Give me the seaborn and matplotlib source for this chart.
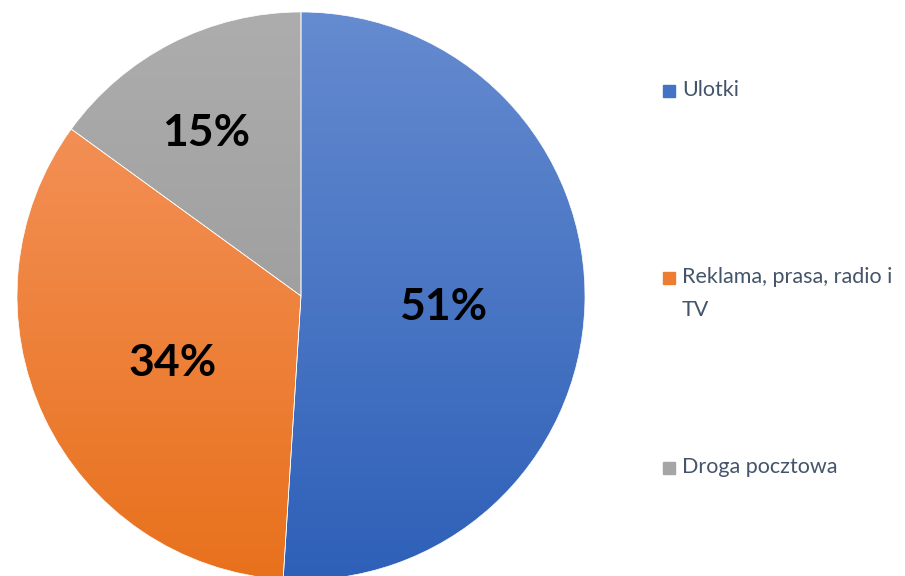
import numpy as np
import matplotlib
matplotlib.use("Agg")
import matplotlib.pyplot as plt
import seaborn as sns

# Data
labels = ["Ulotki", "Reklama, prasa, radio i\nTV", "Droga pocztowa"]
values = [51, 34, 15]
top_colors = ["#658bd0", "#f38f55", "#adadad"]
bottom_colors = ["#2e60b8", "#e8711c", "#a0a0a0"]
base_colors = ["#4472c4", "#ed7d31", "#a5a5a5"]

sns.set_theme(style="white")
plt.rcParams["font.family"] = ["Lato", "DejaVu Sans"]

fig = plt.figure(figsize=(9.05, 5.76), dpi=100)
ax = fig.add_axes([0, 0, 1, 1])

cx, cy, r = 301, 576 - 296, 284
wedges, texts, autotexts = ax.pie(
    values, colors=sns.color_palette(base_colors), startangle=90, counterclock=False,
    center=(cx, cy), radius=r, autopct="%d%%", pctdistance=0.5, frame=True,
    wedgeprops=dict(linewidth=0.5, edgecolor="white"),
    textprops=dict(fontsize=32, fontweight="bold", color="black"))
ax.set_xlim(0, 905)
ax.set_ylim(0, 576)
ax.set_aspect("auto")
ax.axis("off")

# gradient fill per wedge
for w, c1, c2 in zip(wedges, top_colors, bottom_colors):
    w.set_facecolor("none")
    ext = w.get_path().get_extents()
    a = np.array(matplotlib.colors.to_rgb(c1))
    b = np.array(matplotlib.colors.to_rgb(c2))
    t = np.linspace(0, 1, 256)[:, None]
    grad = (a * (1 - t) + b * t)[:, None, :]
    im = ax.imshow(grad, extent=[ext.x0, ext.x1, ext.y0, ext.y1], origin="upper",
                   aspect="auto", zorder=0.5)
    im.set_clip_path(w)

# label placement (small slice a bit further out), nudged like the original
dists = [0.5, 0.5, 0.67]
dx = [0, 0, -8]
cum = np.cumsum([0] + values[:-1])
for t, v, c0, d, ox in zip(autotexts, values, cum, dists, dx):
    ang = np.deg2rad(90 - 360 * (c0 + v / 2) / 100)
    t.set_position((cx + d * r * np.cos(ang) + ox, cy + d * r * np.sin(ang) - 7))
    t.set_zorder(5)

# legend
ys = [576 - 91, 576 - 278, 576 - 468]
for lab, col, y in zip(labels, base_colors, ys):
    ax.add_patch(plt.Rectangle((663, y - 6), 12, 12, color=col, zorder=3))
    ax.text(682, y + 11, lab, fontsize=15.5, color="#44546a", va="top", ha="left",
            linespacing=1.8)

fig.savefig("out.png", dpi=100)
